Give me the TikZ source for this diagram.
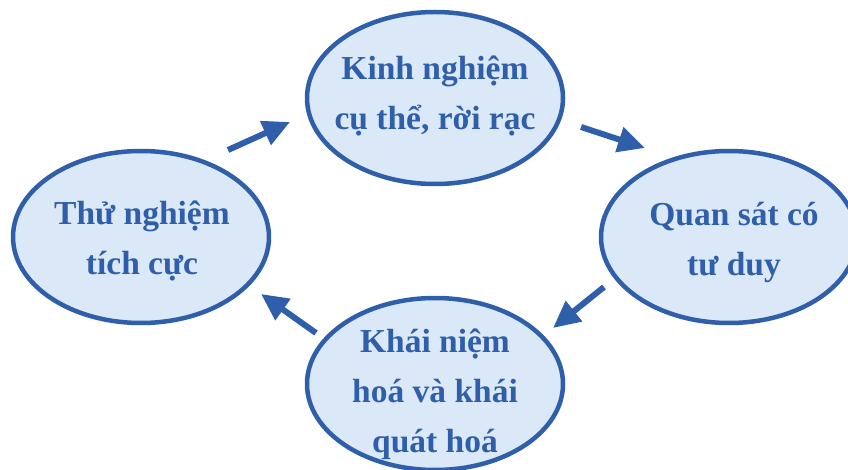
\documentclass[tikz,border=0pt]{standalone}
\usepackage{fontspec}
\setmainfont{Liberation Serif}
\usepackage{tikz}
\usetikzlibrary{shapes.geometric, arrows.meta}

\definecolor{cycleblue}{RGB}{47,95,170}
\definecolor{cyclefill}{RGB}{218,232,247}

\tikzset{
  bubble/.style={ellipse, draw=cycleblue, fill=cyclefill, line width=4.5pt,
    minimum width=256pt, minimum height=172pt, inner sep=0pt},
  bubbletext/.style={text=cycleblue, align=center, inner sep=0pt,
    font=\fontsize{33.5}{50}\selectfont\bfseries},
  flow/.style={draw=cycleblue, line width=6pt,
    -{Triangle[length=27pt,width=25pt]}}
}

\begin{document}
\begin{tikzpicture}[x=1pt, y=-1pt]

    \useasboundingbox (0,0) rectangle (848,470);
    \clip (0,0) rectangle (848,470);

    % The four stages
    \node[bubble] (top) at (435,98) {};
    \node[bubble] (right) at (729,237) {};
    \node[bubble] (bottom) at (435,384) {};
    \node[bubble] (left) at (141,237) {};

    % Texts in the stages
    \node[bubbletext] (toptext) at (435,96) {Kinh nghiệm\\cụ thể, rời rạc};
    \node[bubbletext] (righttext) at (734,242) {Quan sát có\\tư duy};
    \node[bubbletext] (bottomtext) at (435,394) {Khái niệm\\hoá và khái\\quát hoá};
    \node[bubbletext] (lefttext) at (142,241) {Thử nghiệm\\tích cực};

    % Arrow ends
    \coordinate (a1s) at (228,150);
    \coordinate (a1e) at (290,122);
    \coordinate (a2s) at (581,127);
    \coordinate (a2e) at (645,148);
    \coordinate (a3s) at (604,287);
    \coordinate (a3e) at (553,328);
    \coordinate (a4s) at (316,333);
    \coordinate (a4e) at (261,294);

    % Cycle arrows
    \draw[flow] (a1s) -- (a1e);
    \draw[flow] (a2s) -- (a2e);
    \draw[flow] (a3s) -- (a3e);
    \draw[flow] (a4s) -- (a4e);

\end{tikzpicture}
\end{document}
